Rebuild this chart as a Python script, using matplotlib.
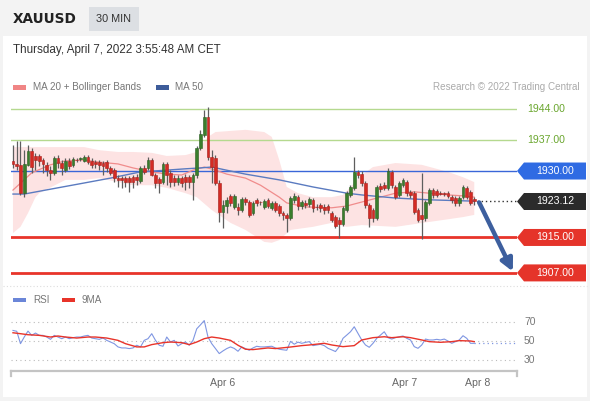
import matplotlib
matplotlib.use("Agg")
import matplotlib.pyplot as plt
from matplotlib.patches import Polygon, Rectangle
import numpy as np

plt.rcParams['font.family'] = ['Liberation Sans', 'DejaVu Sans']

# 30 min candles, XAUUSD
opens = [
    1932.3, 1931.6, 1931.4, 1925.0, 1931.4, 1934.5, 1933.4, 1933.4, 1932.5, 1931.4,
    1930.2, 1929.6, 1932.9, 1931.8, 1930.2, 1932.3, 1931.4, 1932.5, 1932.7, 1932.3,
    1933.2, 1932.3, 1932.0, 1932.0, 1931.8, 1932.0, 1930.7, 1930.2, 1928.4, 1928.4,
    1928.4, 1928.4, 1928.6, 1928.6, 1927.7, 1930.7, 1930.7, 1932.5, 1929.1, 1928.2,
    1927.5, 1931.6, 1929.6, 1928.4, 1927.5, 1928.4, 1928.6, 1928.6, 1927.5, 1929.1,
    1935.2, 1938.1, 1942.2, 1933.2, 1932.9, 1927.3, 1920.7, 1922.1, 1924.4, 1921.9,
    1921.9, 1921.2, 1923.7, 1923.0, 1920.5, 1923.5, 1923.0, 1921.9, 1923.5, 1921.7,
    1922.8, 1922.1, 1920.5, 1920.1, 1919.4, 1923.5, 1924.1, 1922.1, 1922.8, 1922.6,
    1923.5, 1921.9, 1922.3, 1921.9, 1922.1, 1920.5, 1919.6, 1918.9, 1918.0, 1921.2,
    1924.6, 1926.2, 1929.8, 1929.3, 1927.3, 1922.3, 1921.2, 1919.4, 1926.6, 1926.8,
    1926.2, 1929.8, 1926.4, 1924.6, 1926.8, 1927.5, 1925.3, 1925.0, 1921.2, 1920.1,
    1919.4, 1922.8, 1925.7, 1925.5, 1925.0, 1925.0, 1925.0, 1924.1, 1923.9, 1922.8,
    1924.1, 1926.2, 1925.3, 1923.7]
closes = [
    1931.6, 1931.1, 1925.0, 1931.6, 1934.5, 1930.9, 1932.5, 1932.3, 1931.6, 1930.2,
    1929.6, 1932.9, 1931.8, 1930.7, 1932.3, 1931.1, 1932.7, 1932.4, 1932.8, 1933.2,
    1932.0, 1931.4, 1931.6, 1931.4, 1931.1, 1930.7, 1929.6, 1928.4, 1928.0, 1928.0,
    1927.5, 1927.5, 1927.5, 1928.0, 1930.7, 1929.8, 1932.5, 1929.1, 1927.3, 1927.3,
    1931.6, 1929.1, 1927.5, 1927.5, 1928.4, 1927.3, 1927.5, 1927.5, 1929.1, 1935.2,
    1938.4, 1942.2, 1933.2, 1930.9, 1927.3, 1920.7, 1922.3, 1923.5, 1922.8, 1924.4,
    1921.2, 1923.7, 1923.0, 1920.1, 1922.8, 1922.8, 1922.9, 1923.2, 1922.1, 1922.8,
    1921.2, 1920.5, 1920.1, 1919.4, 1923.9, 1924.4, 1922.1, 1923.0, 1922.3, 1923.7,
    1921.7, 1921.8, 1921.7, 1921.2, 1921.2, 1918.9, 1917.6, 1918.0, 1921.7, 1925.0,
    1926.4, 1929.8, 1929.1, 1927.3, 1922.3, 1919.4, 1919.4, 1926.4, 1925.9, 1926.2,
    1930.0, 1926.8, 1924.1, 1927.3, 1928.0, 1925.0, 1924.6, 1920.7, 1918.9, 1919.2,
    1923.0, 1925.7, 1924.6, 1924.6, 1924.9, 1924.8, 1924.4, 1923.5, 1922.8, 1923.9,
    1926.4, 1924.1, 1922.8, 1923.12]
highs = [
    1935.9, 1936.8, 1936.8, 1934.7, 1935.9, 1935.2, 1934.1, 1933.8, 1932.9, 1932.0,
    1931.1, 1933.4, 1933.6, 1932.5, 1932.9, 1932.9, 1933.2, 1932.9, 1933.2, 1933.6,
    1933.6, 1932.9, 1932.5, 1932.5, 1932.3, 1932.5, 1931.1, 1930.7, 1929.1, 1928.9,
    1928.9, 1928.9, 1929.1, 1929.3, 1931.1, 1931.4, 1933.2, 1932.9, 1929.6, 1928.6,
    1932.0, 1932.0, 1930.2, 1929.1, 1929.1, 1928.9, 1929.3, 1929.1, 1929.6, 1935.6,
    1939.3, 1943.8, 1944.5, 1934.7, 1933.6, 1928.0, 1923.5, 1924.1, 1924.8, 1924.8,
    1922.8, 1924.1, 1924.1, 1923.5, 1923.2, 1923.9, 1923.2, 1923.7, 1923.9, 1923.2,
    1923.2, 1922.6, 1921.0, 1920.5, 1924.4, 1925.0, 1924.6, 1923.5, 1923.5, 1924.1,
    1923.9, 1922.6, 1922.8, 1922.6, 1922.6, 1921.0, 1920.1, 1919.6, 1922.1, 1925.5,
    1926.8, 1933.2, 1930.2, 1930.0, 1927.7, 1922.8, 1921.7, 1926.8, 1927.3, 1927.5,
    1930.7, 1930.2, 1926.8, 1927.7, 1928.4, 1928.0, 1925.7, 1925.5, 1921.7, 1929.6,
    1923.5, 1926.2, 1926.2, 1925.9, 1925.5, 1925.3, 1925.5, 1924.6, 1924.4, 1924.4,
    1926.8, 1926.6, 1925.7, 1924.1]
lows = [
    1930.7, 1930.2, 1924.6, 1924.1, 1931.1, 1929.6, 1930.2, 1931.1, 1929.6, 1928.9,
    1928.0, 1929.1, 1930.7, 1929.1, 1929.8, 1930.5, 1930.9, 1932.0, 1932.3, 1932.0,
    1931.6, 1930.7, 1930.7, 1930.2, 1929.1, 1929.8, 1929.1, 1927.5, 1926.4, 1926.2,
    1926.4, 1925.3, 1926.2, 1926.8, 1927.3, 1929.3, 1930.2, 1928.9, 1926.2, 1925.0,
    1927.1, 1926.8, 1926.4, 1926.6, 1926.8, 1926.4, 1925.7, 1926.2, 1923.5, 1928.4,
    1934.7, 1937.7, 1932.5, 1927.3, 1926.8, 1918.5, 1917.1, 1920.5, 1922.1, 1921.4,
    1920.1, 1920.7, 1922.3, 1919.6, 1920.1, 1922.1, 1922.3, 1921.4, 1921.7, 1921.2,
    1920.7, 1919.8, 1918.9, 1916.2, 1918.9, 1922.8, 1921.2, 1921.4, 1921.7, 1921.9,
    1920.7, 1921.2, 1920.7, 1920.3, 1920.5, 1918.5, 1917.1, 1914.9, 1917.6, 1920.7,
    1924.1, 1925.7, 1928.4, 1926.6, 1921.7, 1917.4, 1918.5, 1918.9, 1925.3, 1925.7,
    1925.7, 1926.2, 1923.7, 1924.1, 1926.4, 1924.4, 1923.9, 1920.3, 1918.5, 1914.7,
    1918.7, 1922.3, 1923.9, 1924.1, 1924.6, 1924.4, 1923.9, 1922.8, 1922.1, 1922.1,
    1923.7, 1923.7, 1922.3, 1922.3]

# indicators, read at sample candles
ma20_idx = [0, 5, 10, 14, 19, 23, 28, 32, 37, 41, 45, 48, 51, 54, 57, 62, 66, 71, 73, 78,
            85, 89, 93, 98, 102, 107, 111, 116, 120, 123]
ma20_val = [1925.7, 1929.6, 1931.4, 1932.3, 1932.5, 1932.0, 1931.6, 1930.7, 1929.8, 1929.3,
            1929.1, 1930.2, 1930.9, 1930.2, 1929.3, 1928.4, 1926.8, 1924.1, 1922.8, 1921.9,
            1921.7, 1922.1, 1923.0, 1924.1, 1925.0, 1925.3, 1925.0, 1924.6, 1924.4, 1924.1]
ma50_idx = [0, 3, 10, 19, 26, 34, 41, 46, 50, 53, 58, 62, 71, 80, 89, 93, 102, 111, 123]
ma50_val = [1924.8, 1924.8, 1925.9, 1927.3, 1928.4, 1929.8, 1930.2, 1930.5, 1930.7, 1930.9,
            1930.0, 1929.3, 1928.0, 1926.4, 1925.0, 1924.6, 1923.9, 1923.5, 1923.2]
bb_up_idx = [0, 10, 19, 23, 28, 32, 37, 41, 46, 49, 50, 52, 54, 62, 67, 69, 71, 73, 76, 80,
             85, 88, 90, 93, 96, 102, 109, 116, 120, 123]
bb_up_val = [1935.4, 1935.4, 1935.4, 1934.7, 1934.3, 1934.3, 1934.1, 1933.4, 1933.6, 1934.3,
             1935.6, 1937.7, 1938.8, 1939.3, 1938.8, 1937.7, 1932.5, 1926.4, 1925.0, 1924.1,
             1924.1, 1924.6, 1926.4, 1929.1, 1930.9, 1931.8, 1931.4, 1929.8, 1928.6, 1927.5]
bb_lo_idx = [0, 2, 4, 6, 7, 14, 19, 23, 28, 32, 37, 41, 46, 49, 53, 58, 62, 67, 69, 71,
             74, 80, 85, 89, 93, 102, 111, 120, 123]
bb_lo_val = [1916.0, 1917.4, 1920.5, 1924.1, 1925.0, 1928.0, 1928.0, 1928.4, 1927.5, 1926.8,
             1926.8, 1926.2, 1925.0, 1924.1, 1921.2, 1918.3, 1916.7, 1914.0, 1913.8, 1914.4,
             1916.7, 1917.4, 1918.3, 1917.4, 1917.8, 1917.4, 1918.5, 1919.6, 1920.1]

rsi = [
    61.4, 60.5, 47.1, 54.3, 60.7, 56.1, 58.6, 56.1, 56.1, 54.3,
    51.8, 56.1, 54.3, 52.5, 54.3, 52.5, 53.6, 54.3, 54.3, 55.4,
    56.1, 53.2, 52.5, 51.8, 53.2, 50.7, 48.9, 47.1, 43.6, 42.5,
    42.5, 41.8, 42.5, 45.4, 43.6, 50.7, 52.5, 57.9, 50.7, 45.4,
    44.3, 54.3, 48.9, 50.7, 44.6, 47.1, 48.9, 45.4, 50.7, 63.2,
    67.5, 72.1, 54.3, 47.1, 41.8, 36.4, 39.3, 41.8, 43.6, 42.0,
    38.9, 43.6, 41.8, 40.0, 42.5, 44.3, 43.6, 43.6, 44.0, 44.3,
    42.5, 41.1, 40.5, 40.0, 49.6, 46.5, 48.8, 47.5, 48.5, 49.3,
    45.0, 45.7, 46.4, 45.0, 42.1, 40.4, 38.6, 43.9, 52.9, 56.4,
    60.0, 65.4, 58.2, 51.1, 45.7, 43.2, 47.5, 52.9, 56.4, 60.0,
    53.6, 52.1, 53.6, 54.6, 55.4, 52.9, 51.1, 43.9, 42.1, 45.7,
    52.1, 51.1, 51.1, 51.8, 51.1, 52.1, 50.0, 47.5, 49.3, 51.1,
    55.7, 52.9, 47.5, 47.5]
rsi_ma_idx = [0, 2, 4, 7, 10, 12, 14, 17, 20, 22, 25, 28, 30, 33, 35, 37, 40, 42, 45, 47,
              49, 51, 53, 55, 58, 60, 62, 64, 68, 70, 74, 77, 79, 83, 85, 88, 91, 93, 96, 99,
              101, 104, 106, 109, 111, 114, 117, 119, 122, 123]
rsi_ma_val = [58.9, 57.9, 56.8, 56.1, 54.3, 55.4, 54.3, 53.2, 54.3, 54.3, 53.2, 50.7, 47.1,
              43.6, 43.6, 46.1, 48.2, 48.9, 48.2, 46.1, 48.9, 52.5, 54.3, 53.2, 50.7, 45.4,
              41.1, 40.7, 42.5, 41.8, 43.5, 45.0, 45.7, 47.5, 45.7, 43.9, 45.0, 51.1, 53.6,
              54.6, 53.6, 54.6, 53.6, 51.1, 49.3, 48.6, 49.3, 50.4, 50.0, 49.3]

resistances = [1944.0, 1937.0]
pivot = 1930.0
supports = [1915.0, 1907.0]
tick_pos = [56, 104.5, 124]
tick_labels = ['Apr 6', 'Apr 7', 'Apr 8']
rsi_levels = [70, 30, 50]

W, H = 590, 401
fig = plt.figure(figsize=(W / 100, H / 100), dpi=100)
fig.patch.set_facecolor('#f3f3f3')


def fb(x0, y0, x1, y1):
    # pixel box (top-left origin) -> figure fraction rect
    return [x0 / W, 1 - y1 / H, (x1 - x0) / W, (y1 - y0) / H]


# white panel + header
fig.add_artist(Rectangle((3 / W, 1 - 397 / H), 584 / W, 361 / H, transform=fig.transFigure,
                         facecolor='white', edgecolor='none', zorder=0))
fig.add_artist(Rectangle((89 / W, 1 - 31 / H), 50 / W, 24 / H, transform=fig.transFigure,
                         facecolor='#dcdfe3', edgecolor='none'))
fig.text(13 / W, 1 - 19 / H, 'XAUUSD', fontsize=9.8, fontweight='bold', color='#222',
         family='DejaVu Sans', va='center')
fig.text(114 / W, 1 - 19 / H, '30 MIN', fontsize=7.8, color='#333', ha='center', va='center')
fig.text(13 / W, 1 - 50 / H, 'Thursday, April 7, 2022 3:55:48 AM CET', fontsize=8.4,
         color='#333', va='center')
fig.add_artist(Rectangle((13 / W, 1 - 89.5 / H), 13 / W, 4 / H, transform=fig.transFigure,
                         facecolor='#f08585', edgecolor='none'))
fig.text(33 / W, 1 - 87 / H, 'MA 20 + Bollinger Bands', fontsize=7.1, color='#777', va='center')
fig.add_artist(Rectangle((156 / W, 1 - 89.5 / H), 13 / W, 4 / H, transform=fig.transFigure,
                         facecolor='#3d5c9a', edgecolor='none'))
fig.text(175 / W, 1 - 87 / H, 'MA 50', fontsize=7.1, color='#777', va='center')
fig.text(580 / W, 1 - 87 / H, 'Research \u00a9 2022 Trading Central', fontsize=7.1,
         color='#aaa', ha='right', va='center')
fig.add_artist(plt.Line2D([3 / W, 587 / W], [1 - 286 / H, 1 - 286 / H], transform=fig.transFigure,
                          color='#dddddd', lw=0.8, ls=(0, (1, 2))))

n = len(closes)
idx = np.arange(n)
xmin, xmax = -0.53, 134.4

ax = fig.add_axes(fb(11, 95, 517, 285))
ax.set_xlim(xmin, xmax)
ax.set_ylim(1904.27, 1947.16)
ax.axis('off')

ax.fill(np.concatenate([bb_up_idx, bb_lo_idx[::-1]]),
        np.concatenate([bb_up_val, bb_lo_val[::-1]]), color='#fde3e3', lw=0, zorder=1)
for lv in resistances:
    ax.axhline(lv, color='#b5d98f', lw=1, zorder=2)
ax.axhline(pivot, color='#3a66d8', lw=1, zorder=2)
for lv in supports:
    ax.axhline(lv, color='#e8342a', lw=2, zorder=2)
ax.plot(ma20_idx, ma20_val, color='#f08c8c', lw=0.9, zorder=3)
ax.plot(ma50_idx, ma50_val, color='#5b7bc0', lw=1, zorder=3)

o = np.array(opens)
c = np.array(closes)
up = c >= o
ax.vlines(idx, lows, highs, color='#5e5e5e', lw=0.9, zorder=4)
body = np.maximum(np.abs(c - o), 0.15)
ax.bar(idx[up], body[up], bottom=o[up], width=0.7, color='#3a7e2c', edgecolor='#2c5f22',
       lw=0.4, zorder=5)
ax.bar(idx[~up], body[~up], bottom=c[~up], width=0.7, color='#d42b24', edgecolor='#a8201b',
       lw=0.4, zorder=5)

last = closes[-1]
ax.plot([n - 0.2, xmax], [last, last], color='#333', lw=1, ls=(0, (1, 2)), zorder=3)
ax.annotate('', xy=(133.3, supports[1] + 0.3), xytext=(n + 0.3, last - 0.2),
            arrowprops=dict(arrowstyle='-|>', color='#3d5f9e', lw=3.2, mutation_scale=18,
                            shrinkA=0, shrinkB=0), annotation_clip=False, zorder=6)

fig.canvas.draw()


def ypix(level):
    return ax.transData.transform((0, level))[1]


def tag(level, text, color):
    yc = ypix(level)
    h = 8.5
    pts = [(517, yc), (524, yc + h), (586, yc + h), (586, yc - h), (524, yc - h)]
    fig.add_artist(Polygon([(px / W, py / H) for px, py in pts], closed=True,
                           transform=fig.transFigure, facecolor=color, edgecolor='none'))
    fig.text(555 / W, yc / H, text, color='white', fontsize=7.6, ha='center', va='center')


for lv in resistances:
    fig.text(527 / W, ypix(lv) / H, '%.2f' % lv, color='#6aa62e', fontsize=7.6, va='center')
tag(pivot, '%.2f' % pivot, '#2f6be3')
tag(last, '%.2f' % last, '#2b2b2b')
for lv in supports:
    tag(lv, '%.2f' % lv, '#e5342a')

# RSI panel
ax2 = fig.add_axes(fb(11, 312, 517, 371))
ax2.set_xlim(xmin, xmax)
ax2.set_ylim(17.57, 81.35)
for s in ['top', 'right', 'left']:
    ax2.spines[s].set_visible(False)
ax2.spines['bottom'].set_color('#c4c4c4')
ax2.spines['bottom'].set_linewidth(1.6)
ax2.set_xticks([])
ax2.set_yticks([])
ax2.patch.set_alpha(0)
for lv in rsi_levels:
    ax2.axhline(lv, color='#bbbbbb', lw=0.8, ls=(0, (1, 3)))
    fig.text(524 / W, ax2.transData.transform((0, lv))[1] / H, str(lv), fontsize=7.4,
             color='#777', va='center')
ax2.plot(idx, rsi, color='#7f96e2', lw=0.8)
ax2.plot([n - 1, xmax], [rsi[-1], rsi[-1]], color='#7f96e2', lw=0.9, ls=(0, (1, 2.5)))
ax2.plot(rsi_ma_idx, rsi_ma_val, color='#e8342a', lw=1)
for xa in (0, 1):
    ax2.plot([xa, xa], [0, -0.08], transform=ax2.transAxes, color='#c4c4c4', lw=1.6,
             clip_on=False)
for p, lab in zip(tick_pos, tick_labels):
    ax2.text(p, -0.2, lab, transform=ax2.get_xaxis_transform(), fontsize=7.6, color='#666',
             ha='center', va='center')

fig.add_artist(Rectangle((13 / W, 1 - 302 / H), 13 / W, 4 / H, transform=fig.transFigure,
                         facecolor='#6b86d8', edgecolor='none'))
fig.text(33 / W, 1 - 300 / H, 'RSI', fontsize=7.1, color='#777', va='center')
fig.add_artist(Rectangle((62 / W, 1 - 302 / H), 13 / W, 4 / H, transform=fig.transFigure,
                         facecolor='#e8342a', edgecolor='none'))
fig.text(81 / W, 1 - 300 / H, '9MA', fontsize=7.1, color='#777', va='center')

fig.savefig('out.png', dpi=100, facecolor=fig.get_facecolor())
